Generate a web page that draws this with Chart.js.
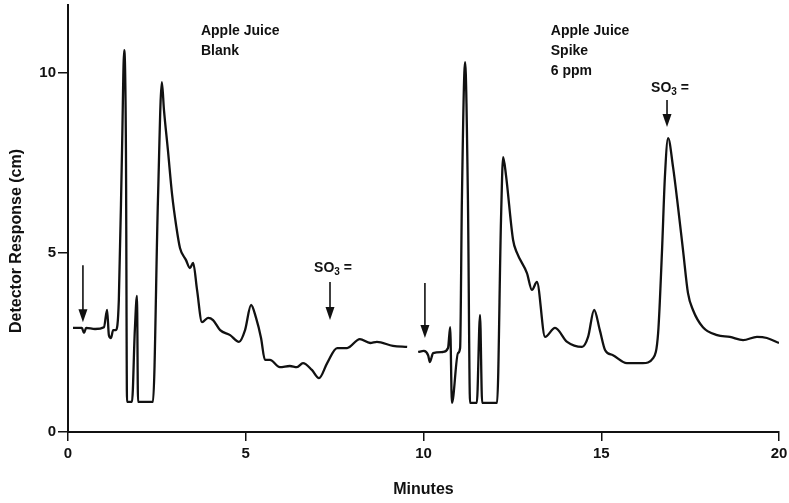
<!DOCTYPE html>
<html>
<head>
<meta charset="utf-8">
<script src="https://cdn.jsdelivr.net/npm/chart.js@4.4.1/dist/chart.umd.min.js"></script>
<style>
html,body{margin:0;padding:0;background:#fff;}
#wrap{width:789px;height:503px;}
</style>
</head>
<body>
<div id="wrap"><canvas id="c" width="789" height="503"></canvas></div>
<script>
// Blank chromatogram (minutes, cm)
const blankX = [0.14,0.39,0.45,0.51,0.76,1.01,1.10,1.15,1.21,1.27,1.35,1.43,1.52,1.58,1.63,1.66,1.80,1.88,1.94,1.97,2.39,2.53,2.64,2.70,2.81,2.93,3.04,3.15,3.32,3.43,3.52,3.63,3.77,3.94,4.08,4.28,4.56,4.81,4.98,5.15,5.29,5.43,5.54,5.68,5.96,6.24,6.44,6.61,6.86,7.06,7.29,7.57,7.85,8.21,8.50,8.69,9.14,9.54];
const blankY = [2.90,2.90,2.76,2.90,2.87,2.92,3.40,2.70,2.62,2.84,2.84,3.68,7.86,10.64,7.86,0.84,0.84,2.84,3.79,0.84,0.84,6.46,9.75,8.97,7.86,6.60,5.77,5.13,4.79,4.57,4.71,3.96,3.06,3.18,3.12,2.84,2.70,2.51,2.84,3.54,3.18,2.62,2.01,2.01,1.81,1.84,1.81,1.92,1.73,1.50,1.92,2.34,2.34,2.59,2.48,2.51,2.40,2.37];
// Spiked chromatogram (minutes, cm)
const spikeX = [9.85,10.01,10.13,10.18,10.27,10.55,10.69,10.75,10.80,10.97,11.03,11.08,11.17,11.25,11.31,11.50,11.59,11.65,12.07,12.18,12.24,12.32,12.52,12.63,12.91,13.05,13.19,13.42,13.70,14.04,14.46,14.63,14.80,14.96,15.11,15.33,15.72,16.17,16.46,16.60,16.71,16.79,16.88,17.02,17.16,17.30,17.44,17.58,17.86,18.26,18.62,18.99,19.38,19.66,20.0];
const spikeY = [2.23,2.26,2.14,1.95,2.20,2.23,2.34,2.92,0.81,2.20,2.34,6.46,10.31,6.46,0.81,0.81,3.26,0.81,0.81,5.91,7.66,7.16,5.35,4.99,4.43,3.96,4.18,2.65,2.90,2.51,2.37,2.65,3.40,2.84,2.28,2.14,1.92,1.92,2.06,2.76,5.07,7.10,8.19,7.38,6.27,5.07,3.87,3.40,2.92,2.70,2.65,2.56,2.65,2.62,2.48];
// Axis ticks
const xTicks = [0,5,10,15,20];
const yTicks = [0,5,10];
// Arrows: x, yStart, yEnd (data units)
const arrowX = [0.42, 10.04, 7.37, 16.85];
const arrowY0 = [4.65, 4.15, 4.18, 9.25];
const arrowY1 = [3.06, 2.62, 3.12, 8.50];
// SO3 labels
const so3X = [7.37, 16.85];
const so3Y = [4.57, 9.58];
// Sample labels
const labelX = [3.74, 13.58];
const labelY = [11.17, 11.17];
const labelLines = [["Apple Juice","Blank"],["Apple Juice","Spike","6 ppm"]];
const yTitle = 'Detector Response (cm)';

const toPts = (xs, ys) => xs.map((x,i)=>({x:x, y:ys[i]}));
const FONT = '"Liberation Sans", Arial, sans-serif';

const annot = {
  id:'annot',
  afterDatasetsDraw(chart){
    const ctx = chart.ctx, xs = chart.scales.x, ys = chart.scales.y;
    ctx.save();
    ctx.strokeStyle = '#111'; ctx.fillStyle = '#111';
    for (let i=0;i<arrowX.length;i++){
      const px = xs.getPixelForValue(arrowX[i]);
      const p0 = ys.getPixelForValue(arrowY0[i]);
      const p1 = ys.getPixelForValue(arrowY1[i]);
      ctx.lineWidth = 1.6;
      ctx.beginPath(); ctx.moveTo(px,p0); ctx.lineTo(px,p1-10); ctx.stroke();
      ctx.beginPath(); ctx.moveTo(px-4.5,p1-13); ctx.lineTo(px+4.5,p1-13); ctx.lineTo(px,p1); ctx.closePath(); ctx.fill();
    }
    for (let i=0;i<so3X.length;i++){
      const cx = xs.getPixelForValue(so3X[i]);
      const cy = ys.getPixelForValue(so3Y[i]);
      ctx.textBaseline = 'middle'; ctx.textAlign = 'left';
      ctx.font = 'bold 14px ' + FONT;
      const wSO = ctx.measureText('SO').width;
      ctx.font = 'bold 10px ' + FONT;
      const w3 = ctx.measureText('3').width;
      ctx.font = 'bold 14px ' + FONT;
      const wEq = ctx.measureText(' =').width;
      let x0 = cx - (wSO + w3 + wEq)/2 + 3;
      ctx.fillText('SO', x0, cy);
      ctx.font = 'bold 10px ' + FONT;
      ctx.fillText('3', x0 + wSO, cy + 4);
      ctx.font = 'bold 14px ' + FONT;
      ctx.fillText(' =', x0 + wSO + w3, cy);
    }
    ctx.font = 'bold 14px ' + FONT;
    ctx.textAlign = 'left'; ctx.textBaseline = 'middle';
    for (let i=0;i<labelX.length;i++){
      const lx = xs.getPixelForValue(labelX[i]);
      const ly = ys.getPixelForValue(labelY[i]);
      labelLines[i].forEach((t,j)=> ctx.fillText(t, lx, ly + j*20));
    }
    // y axis title
    ctx.translate(17, 241);
    ctx.rotate(-Math.PI/2);
    ctx.textAlign = 'center'; ctx.textBaseline = 'middle';
    ctx.font = 'bold 16px ' + FONT;
    ctx.fillText(yTitle, 0, 0);
    ctx.restore();
  }
};

new Chart(document.getElementById('c'), {
  type:'scatter',
  data:{datasets:[
    {data:toPts(blankX, blankY), showLine:true, borderColor:'#111', borderWidth:2.3, pointRadius:0, cubicInterpolationMode:'monotone', tension:0.4, fill:false},
    {data:toPts(spikeX, spikeY), showLine:true, borderColor:'#111', borderWidth:2.3, pointRadius:0, cubicInterpolationMode:'monotone', tension:0.4, fill:false}
  ]},
  options:{
    responsive:false, animation:false,
    layout:{padding:{top:5,right:10,left:0,bottom:0}},
    plugins:{legend:{display:false}, tooltip:{enabled:false}},
    scales:{
      x:{type:'linear', min:0, max:20,
        afterBuildTicks(s){ s.ticks = xTicks.map(v=>({value:v})); },
        afterFit(s){ s.height = 71; s.paddingLeft = 0; s.paddingRight = 0; },
        grid:{drawOnChartArea:false, drawTicks:true, tickLength:9, color:'#111', lineWidth:1.5},
        border:{display:true, color:'#111', width:2},
        ticks:{color:'#111', font:{family:FONT, size:15, weight:'bold'}, padding:4, maxRotation:0},
        title:{display:true, text:'Minutes', color:'#111', font:{family:FONT, size:16, weight:'bold'}, padding:{top:10}}
      },
      y:{type:'linear', min:0, max:11.9,
        afterBuildTicks(s){ s.ticks = yTicks.map(v=>({value:v})); },
        afterFit(s){ s.width = 68; s.paddingTop = 0; s.paddingBottom = 0; },
        grid:{drawOnChartArea:false, drawTicks:true, tickLength:10, color:'#111', lineWidth:1.5},
        border:{display:true, color:'#111', width:2},
        ticks:{color:'#111', font:{family:FONT, size:15, weight:'bold'}, padding:2},
        title:{display:false}
      }
    }
  },
  plugins:[annot]
});
</script>
</body>
</html>
